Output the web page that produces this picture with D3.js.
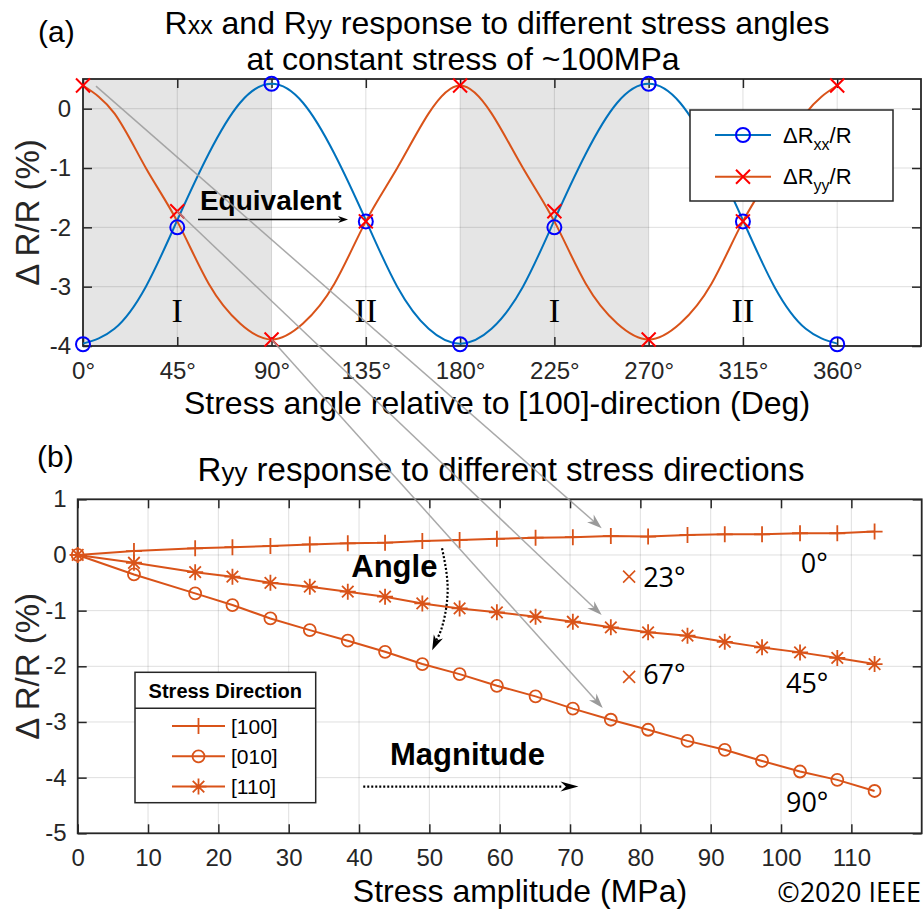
<!DOCTYPE html>
<html>
<head>
<meta charset="utf-8">
<title>Rxx and Ryy response to stress angle and amplitude</title>
<script src="https://cdn.jsdelivr.net/npm/d3@7"></script>
<style>
body { margin: 0; background: #fff; }
text { font-family: "Liberation Sans", Arial, sans-serif; }
</style>
</head>
<body>
<script>
// ---------- panel (a) data ----------
var angleTicks = [0, 45, 90, 135, 180, 225, 270, 315, 360];
var yTicksA = [-4, -3, -2, -1, 0];
var curveAngles = [0, 15, 30, 45, 60, 75, 90, 105, 120, 135, 150, 165, 180,
	195, 210, 225, 240, 255, 270, 285, 300, 315, 330, 345, 360];
var rxxCurve = [-3.96, -3.71, -3.0, -1.88, -0.76, 0.1, 0.42, 0.1, -0.76, -1.88, -3.0, -3.71, -3.96,
	-3.71, -3.0, -1.88, -0.76, 0.1, 0.42, 0.1, -0.76, -1.88, -3.0, -3.71, -3.96];
var ryyCurve = [0.39, -0.08, -1.0, -1.9, -2.95, -3.62, -3.89, -3.62, -2.95, -1.9, -1.0, -0.08, 0.39,
	-0.08, -1.0, -1.9, -2.95, -3.62, -3.89, -3.62, -2.95, -1.9, -1.0, -0.08, 0.39];
var markerAngles = [0, 45, 90, 135, 180, 225, 270, 315, 360];
var rxxMarkers = [-3.97, -2.0, 0.42, -1.9, -3.97, -2.0, 0.42, -1.9, -3.97];
var ryyMarkers = [0.39, -1.73, -3.89, -1.9, 0.39, -1.73, -3.89, -1.9, 0.39];
var shadedRanges = [[0, 90], [180, 270]];
var romanAngles = [45, 135, 225, 315];
var romanLabels = ["I", "II", "I", "II"];
var legendSubs = ["xx", "yy"];

// ---------- panel (b) data ----------
var stressTicks = [0, 10, 20, 30, 40, 50, 60, 70, 80, 90, 100, 110];
var yTicksB = [-5, -4, -3, -2, -1, 0, 1];
var stress = [0, 8, 16.7, 22, 27.4, 33, 38.4, 43.7, 49, 54.3, 59.6, 65.1, 70.4, 75.8, 81.1, 86.7, 92, 97.3, 102.7, 108, 113.3];
var r100 = [0, 0.07, 0.12, 0.14, 0.16, 0.19, 0.21, 0.22, 0.25, 0.27, 0.29, 0.31, 0.32, 0.34, 0.33, 0.36, 0.37, 0.37, 0.39, 0.39, 0.42];
var r010 = [0, -0.35, -0.69, -0.9, -1.14, -1.35, -1.54, -1.74, -1.96, -2.14, -2.35, -2.54, -2.76, -2.96, -3.14, -3.34, -3.5, -3.7, -3.89, -4.04, -4.24];
var r110 = [0, -0.14, -0.31, -0.39, -0.5, -0.57, -0.66, -0.75, -0.87, -0.96, -1.03, -1.11, -1.2, -1.3, -1.39, -1.45, -1.56, -1.66, -1.75, -1.85, -1.96];
var seriesNames = ["[100]", "[010]", "[110]"];
var seriesMarkers = ["+", "o", "*"];

var W = 923, H = 909;
var ink = "#262626";
var blue = "#0072BD";
var orange = "#D95319";
var tickFont = 24;
var labelFont = 32;

var svg = d3.select("body").append("svg")
	.attr("width", W)
	.attr("height", H);
svg.append("rect").attr("width", W).attr("height", H).attr("fill", "#fff");

// marker path, centred on 0,0
function markerPath(type, s) {
	if (type == "o") {
		return "M" + s + ",0A" + s + "," + s + " 0 1,1 " + (-s) + ",0A" + s + "," + s + " 0 1,1 " + s + ",0";
	}
	var p = "";
	if (type == "+" || type == "*") {
		p += "M" + (-s) + ",0H" + s + "M0," + (-s) + "V" + s;
	}
	if (type == "x" || type == "*") {
		var k = type == "*" ? s * 0.72 : s;
		p += "M" + (-k) + "," + (-k) + "L" + k + "," + k + "M" + (-k) + "," + k + "L" + k + "," + (-k);
	}
	return p;
}

// filled arrow head with a notched back, tip at (x2,y2) pointing away from (x1,y1)
function arrowHead(g, x1, y1, x2, y2, len, half, color) {
	var a = Math.atan2(y2 - y1, x2 - x1);
	var c = Math.cos(a), s = Math.sin(a);
	var bx = x2 - len * c, by = y2 - len * s;
	var nx = x2 - len * 0.7 * c, ny = y2 - len * 0.7 * s;
	var pts = [[x2, y2], [bx - half * s, by + half * c], [nx, ny], [bx + half * s, by - half * c]];
	g.append("path")
		.attr("d", "M" + pts.map(function(p) { return p[0] + "," + p[1]; }).join("L") + "Z")
		.attr("fill", color);
}

function styleAxis(sel) {
	sel.select(".domain").remove();
	sel.selectAll("line").attr("stroke", ink).attr("stroke-width", 1.5);
	sel.selectAll("text")
		.attr("fill", ink)
		.attr("font-size", tickFont)
		.attr("font-family", "'Liberation Sans', Arial, sans-serif");
}

// =================== panel (a) ===================
var xa = d3.scaleLinear().domain([0, 400]).range([83, 921]);
var ya = d3.scaleLinear().domain([-4, 0.5]).range([346, 79]);
var ga = svg.append("g");

ga.selectAll("rect.shade")
	.data(shadedRanges)
	.enter()
	.append("rect")
	.attr("x", function(d) { return xa(d[0]); })
	.attr("y", ya(0.5))
	.attr("width", function(d) { return xa(d[1]) - xa(d[0]); })
	.attr("height", ya(-4) - ya(0.5))
	.attr("fill", "#e5e5e5");

ga.selectAll("line.vgrid")
	.data(angleTicks)
	.enter()
	.append("line")
	.attr("x1", function(d) { return xa(d); })
	.attr("x2", function(d) { return xa(d); })
	.attr("y1", ya(0.5))
	.attr("y2", ya(-4))
	.attr("stroke", ink)
	.attr("stroke-opacity", 0.15);
ga.selectAll("line.hgrid")
	.data(yTicksA)
	.enter()
	.append("line")
	.attr("x1", xa(0))
	.attr("x2", xa(400))
	.attr("y1", function(d) { return ya(d); })
	.attr("y2", function(d) { return ya(d); })
	.attr("stroke", ink)
	.attr("stroke-opacity", 0.15);

ga.append("g")
	.attr("transform", "translate(0," + ya(-4) + ")")
	.call(d3.axisBottom(xa).tickValues(angleTicks).tickSize(-9).tickPadding(16)
		.tickFormat(function(d) { return d + "°"; }))
	.call(styleAxis);
ga.append("g")
	.attr("transform", "translate(0," + ya(0.5) + ")")
	.call(d3.axisTop(xa).tickValues(angleTicks).tickSize(-9).tickFormat(""))
	.call(styleAxis);
ga.append("g")
	.attr("transform", "translate(" + xa(0) + ",0)")
	.call(d3.axisLeft(ya).tickValues(yTicksA).tickSize(-9).tickPadding(12)
		.tickFormat(function(d) { return String(d); }))
	.call(styleAxis);
ga.append("g")
	.attr("transform", "translate(" + xa(400) + ",0)")
	.call(d3.axisRight(ya).tickValues(yTicksA).tickSize(-9).tickFormat(""))
	.call(styleAxis);

ga.append("rect")
	.attr("x", xa(0)).attr("y", ya(0.5))
	.attr("width", xa(400) - xa(0)).attr("height", ya(-4) - ya(0.5))
	.attr("fill", "none").attr("stroke", ink).attr("stroke-width", 1.8);

var lineA = d3.line()
	.x(function(d, i) { return xa(curveAngles[i]); })
	.y(function(d) { return ya(d); })
	.curve(d3.curveNatural);
ga.append("path").attr("d", lineA(rxxCurve)).attr("fill", "none").attr("stroke", blue).attr("stroke-width", 2);
ga.append("path").attr("d", lineA(ryyCurve)).attr("fill", "none").attr("stroke", orange).attr("stroke-width", 2);

ga.selectAll("path.mxx")
	.data(rxxMarkers)
	.enter()
	.append("path")
	.attr("d", markerPath("o", 7))
	.attr("transform", function(d, i) { return "translate(" + xa(markerAngles[i]) + "," + ya(d) + ")"; })
	.attr("fill", "none").attr("stroke", "#0000ff").attr("stroke-width", 2);
ga.selectAll("path.myy")
	.data(ryyMarkers)
	.enter()
	.append("path")
	.attr("d", markerPath("x", 7))
	.attr("transform", function(d, i) { return "translate(" + xa(markerAngles[i]) + "," + ya(d) + ")"; })
	.attr("fill", "none").attr("stroke", "#ff0000").attr("stroke-width", 2);

ga.selectAll("text.roman")
	.data(romanLabels)
	.enter()
	.append("text")
	.text(function(d) { return d; })
	.attr("x", function(d, i) { return xa(romanAngles[i]); })
	.attr("y", ya(-3.6))
	.attr("text-anchor", "middle")
	.attr("font-size", 34)
	.style("font-family", "'Liberation Serif', 'DejaVu Serif', serif");

// "Equivalent" annotation
ga.append("text")
	.text("Equivalent")
	.attr("x", xa(55.8)).attr("y", ya(-1.71))
	.attr("font-size", 28).attr("font-weight", "bold").attr("fill", "#000");
ga.append("line")
	.attr("x1", xa(54.9)).attr("x2", xa(123)).attr("y1", ya(-1.87)).attr("y2", ya(-1.87))
	.attr("stroke", "#000").attr("stroke-width", 1.5);
arrowHead(ga, xa(54.9), ya(-1.87), xa(126.5), ya(-1.87), 10, 3.5, "#000");

// legend (a)
var legA = ga.append("g");
legA.append("rect")
	.attr("x", 690).attr("y", 110).attr("width", 203).attr("height", 91)
	.attr("fill", "#fff").attr("stroke", ink).attr("stroke-width", 1.5);
legendSubs.forEach(function(sub, i) {
	var cy = 135 + i * 41.7;
	var col = i == 0 ? blue : orange;
	legA.append("line").attr("x1", 715).attr("x2", 771).attr("y1", cy).attr("y2", cy)
		.attr("stroke", col).attr("stroke-width", 2);
	legA.append("path").attr("d", markerPath(i == 0 ? "o" : "x", 7))
		.attr("transform", "translate(743," + cy + ")")
		.attr("fill", "none").attr("stroke", i == 0 ? "#0000ff" : "#ff0000").attr("stroke-width", 2);
	var t = legA.append("text").attr("x", 783).attr("y", cy + 7.5).attr("font-size", 22).attr("fill", "#000");
	t.append("tspan").text("ΔR");
	t.append("tspan").text(sub).attr("font-size", 16).attr("dy", 7);
	t.append("tspan").text("/R").attr("dy", -7);
});

// titles and labels (a)
var t1 = svg.append("text").attr("x", 497).attr("y", 33.5).attr("text-anchor", "middle")
	.attr("font-size", 32).attr("fill", "#000");
t1.append("tspan").text("R");
t1.append("tspan").text("xx").attr("font-size", 25);
t1.append("tspan").text(" and R");
t1.append("tspan").text("yy").attr("font-size", 25);
t1.append("tspan").text(" response to different stress angles");
svg.append("text").text("at constant stress of ~100MPa")
	.attr("x", 463).attr("y", 69.5).attr("text-anchor", "middle")
	.attr("font-size", 32).attr("fill", "#000");
svg.append("text").text("(a)").attr("x", 38).attr("y", 42).attr("font-size", 30).attr("fill", "#000");
svg.append("text").text("Stress angle relative to [100]-direction (Deg)")
	.attr("x", 497).attr("y", 414).attr("text-anchor", "middle")
	.attr("font-size", labelFont).attr("fill", "#000");
svg.append("text").text("Δ R/R (%)")
	.attr("transform", "translate(39," + ((ya(0.5) + ya(-4)) / 2) + ") rotate(-90)")
	.attr("text-anchor", "middle").attr("font-size", 33).attr("fill", ink);

// =================== panel (b) ===================
var xb = d3.scaleLinear().domain([0, 120]).range([77.7, 921.7]);
var yb = d3.scaleLinear().domain([-5, 1]).range([833.3, 499.3]);
var gb = svg.append("g");

gb.selectAll("line.vgrid")
	.data(stressTicks.concat([120]))
	.enter()
	.append("line")
	.attr("x1", function(d) { return xb(d); })
	.attr("x2", function(d) { return xb(d); })
	.attr("y1", yb(1)).attr("y2", yb(-5))
	.attr("stroke", ink).attr("stroke-opacity", 0.15);
gb.selectAll("line.hgrid")
	.data(yTicksB)
	.enter()
	.append("line")
	.attr("x1", xb(0)).attr("x2", xb(120))
	.attr("y1", function(d) { return yb(d); })
	.attr("y2", function(d) { return yb(d); })
	.attr("stroke", ink).attr("stroke-opacity", 0.15);

gb.append("g")
	.attr("transform", "translate(0," + yb(-5) + ")")
	.call(d3.axisBottom(xb).tickValues(stressTicks).tickSize(-9).tickPadding(16)
		.tickFormat(function(d) { return String(d); }))
	.call(styleAxis);
gb.append("g")
	.attr("transform", "translate(0," + yb(1) + ")")
	.call(d3.axisTop(xb).tickValues(stressTicks).tickSize(-9).tickFormat(""))
	.call(styleAxis);
gb.append("g")
	.attr("transform", "translate(" + xb(0) + ",0)")
	.call(d3.axisLeft(yb).tickValues(yTicksB).tickSize(-9).tickPadding(11)
		.tickFormat(function(d) { return String(d); }))
	.call(styleAxis);
gb.append("g")
	.attr("transform", "translate(" + xb(120) + ",0)")
	.call(d3.axisRight(yb).tickValues(yTicksB).tickSize(-9).tickFormat(""))
	.call(styleAxis);

gb.append("rect")
	.attr("x", xb(0)).attr("y", yb(1))
	.attr("width", xb(120) - xb(0)).attr("height", yb(-5) - yb(1))
	.attr("fill", "none").attr("stroke", ink).attr("stroke-width", 1.8);

var lineB = d3.line()
	.x(function(d, i) { return xb(stress[i]); })
	.y(function(d) { return yb(d); });
[r100, r010, r110].forEach(function(series, k) {
	gb.append("path").attr("d", lineB(series))
		.attr("fill", "none").attr("stroke", orange).attr("stroke-width", 2);
	gb.selectAll("path.m" + k)
		.data(series)
		.enter()
		.append("path")
		.attr("d", markerPath(seriesMarkers[k], seriesMarkers[k] == "o" ? 6 : 8))
		.attr("transform", function(d, i) { return "translate(" + xb(stress[i]) + "," + yb(d) + ")"; })
		.attr("fill", "none").attr("stroke", orange).attr("stroke-width", 1.8);
});

// angle labels (b)
var fontB = "'Open Sans', 'Liberation Sans', sans-serif";
[[102.8, -0.32, "0°"], [100.7, -2.48, "45°"], [100.7, -4.61, "90°"], [80.4, -0.57, "23°"], [80.4, -2.32, "67°"]]
	.forEach(function(d) {
		gb.append("text").text(d[2]).attr("x", xb(d[0])).attr("y", yb(d[1]))
			.attr("font-size", 27).attr("fill", "#000").style("font-family", fontB);
	});
[-0.39, -2.19].forEach(function(v) {
	gb.append("path").attr("d", markerPath("x", 6))
		.attr("transform", "translate(" + xb(78.4) + "," + yb(v) + ")")
		.attr("fill", "none").attr("stroke", orange).attr("stroke-width", 1.6);
});

// Angle / Magnitude annotations
gb.append("text").text("Angle").attr("x", xb(38.9)).attr("y", yb(-0.39))
	.attr("font-size", 31).attr("font-weight", "bold").attr("fill", "#000");
var anglePts = [[51.8, 0.12], [52.6, -0.6], [51.9, -1.25], [50.9, -1.55]];
var angleCurve = d3.line()
	.x(function(d) { return xb(d[0]); })
	.y(function(d) { return yb(d[1]); })
	.curve(d3.curveNatural);
var ap = gb.append("path").attr("d", angleCurve(anglePts))
	.attr("fill", "none").attr("stroke", "#000").attr("stroke-width", 2.2).attr("stroke-dasharray", "2,2");
var apLen = ap.node().getTotalLength();
var apPre = ap.node().getPointAtLength(apLen - 6);
arrowHead(gb, apPre.x, apPre.y, xb(50.4), yb(-1.71), 15, 5, "#000");

gb.append("text").text("Magnitude").attr("x", xb(44.4)).attr("y", yb(-3.77))
	.attr("font-size", 31).attr("font-weight", "bold").attr("fill", "#000");
gb.append("line")
	.attr("x1", xb(40.6)).attr("x2", xb(69)).attr("y1", yb(-4.16)).attr("y2", yb(-4.16))
	.attr("stroke", "#000").attr("stroke-width", 2.2).attr("stroke-dasharray", "2,2");
arrowHead(gb, xb(40.6), yb(-4.16), xb(71.2), yb(-4.16), 18, 5, "#000");

// legend (b)
var legB = gb.append("g");
legB.append("rect").attr("x", 135).attr("y", 672.3).attr("width", 180.7).attr("height", 130.4)
	.attr("fill", "#fff").attr("stroke", ink).attr("stroke-width", 1.5);
legB.append("line").attr("x1", 135).attr("x2", 315.7).attr("y1", 708.3).attr("y2", 708.3)
	.attr("stroke", ink).attr("stroke-width", 1.5);
legB.append("text").text("Stress Direction").attr("x", 225.3).attr("y", 698)
	.attr("text-anchor", "middle").attr("font-size", 20).attr("font-weight", "bold").attr("fill", "#000");
seriesNames.forEach(function(name, i) {
	var cy = 726 + i * 30.3;
	legB.append("line").attr("x1", 172).attr("x2", 225).attr("y1", cy).attr("y2", cy)
		.attr("stroke", orange).attr("stroke-width", 2);
	legB.append("path").attr("d", markerPath(seriesMarkers[i], seriesMarkers[i] == "o" ? 6 : 8))
		.attr("transform", "translate(198.5," + cy + ")")
		.attr("fill", "none").attr("stroke", orange).attr("stroke-width", 1.8);
	legB.append("text").text(name).attr("x", 231).attr("y", cy + 7.5)
		.attr("font-size", 21).attr("fill", "#000");
});

// titles and labels (b)
var t2 = svg.append("text").attr("x", 501).attr("y", 481).attr("text-anchor", "middle")
	.attr("font-size", 33).attr("fill", "#000");
t2.append("tspan").text("R");
t2.append("tspan").text("yy").attr("font-size", 26);
t2.append("tspan").text(" response to different stress directions");
svg.append("text").text("(b)").attr("x", 37).attr("y", 467).attr("font-size", 30).attr("fill", "#000");
svg.append("text").text("Stress amplitude (MPa)")
	.attr("x", 520).attr("y", 902).attr("text-anchor", "middle")
	.attr("font-size", labelFont).attr("fill", "#000");
svg.append("text").text("Δ R/R (%)")
	.attr("transform", "translate(39," + ((yb(1) + yb(-5)) / 2) + ") rotate(-90)")
	.attr("text-anchor", "middle").attr("font-size", 33).attr("fill", ink);
svg.append("text").text("©2020 IEEE")
	.attr("x", 921).attr("y", 902).attr("text-anchor", "end")
	.attr("font-size", 27).attr("fill", "#000").style("font-family", fontB);

// gray connectors from panel (a) to panel (b)
var connectors = [
	{from: [6.2, 0.38], to: [74.5, 0.48]},
	{from: [45, -1.73], to: [74.5, -1.08]},
	{from: [90, -3.89], to: [74.65, -2.75]}
];
var gc = svg.append("g");
connectors.forEach(function(c) {
	var x1 = xa(c.from[0]), y1 = ya(c.from[1]);
	var x2 = xb(c.to[0]), y2 = yb(c.to[1]);
	var len = Math.hypot(x2 - x1, y2 - y1);
	gc.append("line").attr("x1", x1).attr("y1", y1)
		.attr("x2", x2 - 8 * (x2 - x1) / len).attr("y2", y2 - 8 * (y2 - y1) / len)
		.attr("stroke", "#9a9a9a").attr("stroke-opacity", 0.85).attr("stroke-width", 1.5);
	arrowHead(gc, x1, y1, x2, y2, 15, 5, "#9a9a9a");
});
</script>
</body>
</html>
